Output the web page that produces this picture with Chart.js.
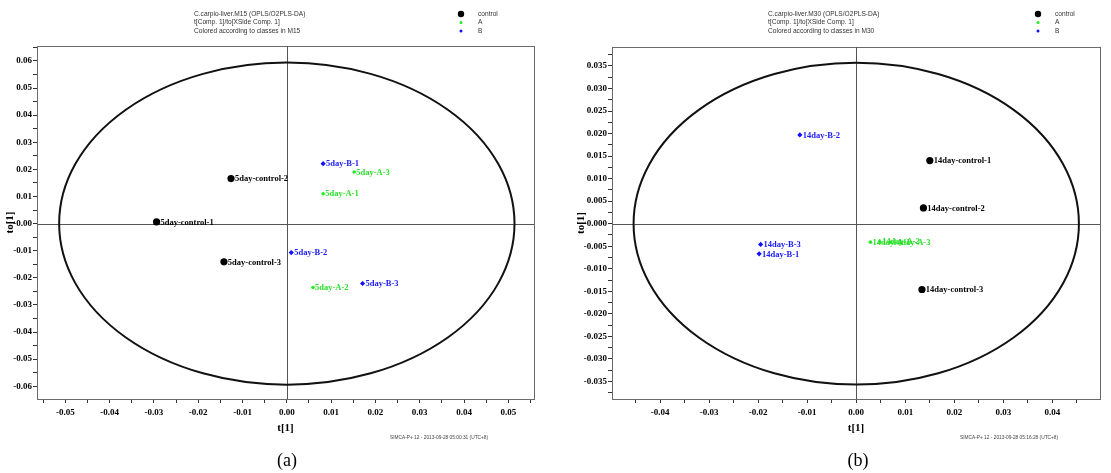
<!DOCTYPE html>
<html>
<head>
<meta charset="utf-8">
<script src="https://cdn.jsdelivr.net/npm/chart.js@4.4.1/dist/chart.umd.min.js"></script>
<style>
  html, body { margin: 0; padding: 0; background: #fff; }
  #wrap { position: relative; width: 1111px; height: 473px; overflow: hidden; background: #fff; }
  #wrap canvas { position: absolute; top: 0; }
  #c15 { left: 0; }
  #c30 { left: 560px; }
</style>
</head>
<body>
<div id="wrap">
  <canvas id="c15" width="560" height="473"></canvas>
  <canvas id="c30" width="551" height="473"></canvas>
</div>
<script>
// ---- M15 (5 day) scores: t[1] and to[1] ----
const m15ControlNames = ['5day-control-1', '5day-control-2', '5day-control-3'];
const m15ControlT     = [-0.0294, -0.0126, -0.0142];
const m15ControlTo    = [0.0006, 0.0166, -0.0141];
const m15ANames = ['5day-A-1', '5day-A-2', '5day-A-3'];
const m15AT     = [0.0082, 0.0059, 0.0152];
const m15ATo    = [0.0110, -0.0236, 0.0190];
const m15BNames = ['5day-B-1', '5day-B-2', '5day-B-3'];
const m15BT     = [0.0082, 0.0010, 0.0171];
const m15BTo    = [0.0221, -0.0107, -0.0221];
// Hotelling T2 (95%) ellipse semi-axes [t, to]
const m15Ellipse = [0.0514, 0.0594];

// ---- M30 (14 day) scores ----
const m30ControlNames = ['14day-control-1', '14day-control-2', '14day-control-3'];
const m30ControlT     = [0.0150, 0.0137, 0.0134];
const m30ControlTo    = [0.0140, 0.0035, -0.0146];
const m30ANames = ['14day-A-1', '14day-A-2', '14day-A-3'];
const m30AT     = [0.0029, 0.0048, 0.0070];
const m30ATo    = [-0.0041, -0.0040, -0.0041];
const m30BNames = ['14day-B-1', '14day-B-2', '14day-B-3'];
const m30BT     = [-0.0198, -0.0115, -0.0195];
const m30BTo    = [-0.0067, 0.0197, -0.0046];
const m30Ellipse = [0.0454, 0.0357];

// ---- class legend ----
const classNames = ['control', 'A', 'B'];

// ---- text ----
const m15Header = ['C.carpio-liver.M15 (OPLS/O2PLS-DA)', 't[Comp. 1]/to[XSide Comp. 1]', 'Colored according to classes in M15'];
const m30Header = ['C.carpio-liver.M30 (OPLS/O2PLS-DA)', 't[Comp. 1]/to[XSide Comp. 1]', 'Colored according to classes in M30'];
const m15Footer = 'SIMCA-P+ 12 - 2013-09-28 05:00:31 (UTC+8)';
const m30Footer = 'SIMCA-P+ 12 - 2013-09-28 05:16:28 (UTC+8)';

const SERIF = "'Liberation Serif', 'Times New Roman', serif";
const SANS = "'Liberation Sans', Arial, sans-serif";

const classStyle = [
  { color: '#000000', text: '#000000', pointStyle: 'circle', radius: 3.6 },
  { color: '#22ee22', text: '#2ee02e', pointStyle: 'circle', radius: 1.8 },
  { color: '#1111ff', text: '#1a1aff', pointStyle: 'rectRot', radius: 2.6 }
];

function pts(xs, ys) { return xs.map((x, i) => ({ x: x, y: ys[i] })); }

function datasets(groups) {
  return groups.map((g, i) => ({
    label: classNames[i],
    data: pts(g.t, g.to),
    names: g.names,
    pointStyle: classStyle[i].pointStyle,
    pointRadius: classStyle[i].radius,
    pointBackgroundColor: classStyle[i].color,
    pointBorderColor: classStyle[i].color,
    pointBorderWidth: 0,
    textColor: classStyle[i].text,
    showLine: false
  }));
}

// Frame, zero lines and T2 ellipse, drawn in data space
const framePlugin = {
  id: 'frame',
  beforeDatasetsDraw(chart) {
    const { ctx, chartArea: a, scales: { x, y } } = chart;
    const o = chart.options.plugins.frame;
    ctx.save();
    ctx.strokeStyle = '#6a6a6a';
    ctx.lineWidth = 1;
    ctx.strokeRect(a.left + 0.5, a.top + 0.5, a.right - a.left, a.bottom - a.top);
    const x0 = Math.round(x.getPixelForValue(0)) + 0.5;
    const y0 = Math.round(y.getPixelForValue(0)) + 0.5;
    ctx.strokeStyle = '#555';
    ctx.beginPath();
    ctx.moveTo(x0, a.top); ctx.lineTo(x0, a.bottom);
    ctx.moveTo(a.left, y0); ctx.lineTo(a.right, y0);
    ctx.stroke();
    const rx = Math.abs(x.getPixelForValue(o.ellipse[0]) - x.getPixelForValue(0));
    const ry = Math.abs(y.getPixelForValue(o.ellipse[1]) - y.getPixelForValue(0));
    ctx.strokeStyle = '#111';
    ctx.lineWidth = 2;
    ctx.beginPath();
    ctx.ellipse(x.getPixelForValue(0), y.getPixelForValue(0), rx, ry, 0, 0, Math.PI * 2);
    ctx.stroke();
    ctx.restore();
  }
};

// Observation names beside each point
const labelPlugin = {
  id: 'pointNames',
  afterDatasetsDraw(chart) {
    const { ctx } = chart;
    ctx.save();
    ctx.font = "bold 8.5px " + SERIF;
    ctx.textBaseline = 'middle';
    ctx.textAlign = 'left';
    chart.data.datasets.forEach((ds, di) => {
      const meta = chart.getDatasetMeta(di);
      ctx.fillStyle = ds.textColor;
      meta.data.forEach((el, i) => {
        ctx.fillText(ds.names[i], el.x + ds.pointRadius + 0.3, el.y + 0.5);
      });
    });
    ctx.restore();
  }
};

// Header, class legend, footer stamp and panel caption
const decorPlugin = {
  id: 'decor',
  afterDraw(chart) {
    const { ctx } = chart;
    const o = chart.options.plugins.decor;
    ctx.save();
    ctx.fillStyle = '#333';
    ctx.font = "6.6px " + SANS;
    ctx.textBaseline = 'middle';
    ctx.textAlign = 'left';
    const rows = [14, 22.5, 31];
    o.header.forEach((line, i) => ctx.fillText(line, o.headerX, rows[i]));
    chart.data.datasets.forEach((ds, i) => {
      ctx.fillStyle = ds.pointBackgroundColor;
      const cx = o.legendX, cy = rows[i];
      const r = i === 0 ? 3.2 : 1.5;
      ctx.beginPath();
      ctx.arc(cx, cy, r, 0, Math.PI * 2);
      ctx.fill();
      ctx.fillStyle = '#333';
      ctx.fillText(ds.label, o.legendX + 17, cy);
    });
    ctx.font = "4.8px " + SANS;
    ctx.fillStyle = '#444';
    ctx.fillText(o.footer, o.footerX, 438);
    ctx.font = "18px " + SERIF;
    ctx.fillStyle = '#000';
    ctx.textAlign = 'center';
    ctx.fillText(o.caption, o.captionX, 461);
    ctx.restore();
  }
};

function makeChart(id, cfg) {
  const tickFont = { family: SERIF, size: 9, weight: 'bold' };
  const titleFont = { family: SERIF, size: 11, weight: 'bold' };
  return new Chart(document.getElementById(id), {
    type: 'scatter',
    data: { datasets: datasets(cfg.groups) },
    plugins: [framePlugin, labelPlugin, decorPlugin],
    options: {
      responsive: false,
      animation: false,
      events: [],
      layout: { padding: { left: 0, right: cfg.padRight, top: cfg.padTop, bottom: 0 } },
      plugins: {
        legend: { display: false },
        tooltip: { enabled: false },
        frame: { ellipse: cfg.ellipse },
        decor: cfg.decor
      },
      scales: {
        x: {
          type: 'linear', position: 'bottom',
          min: cfg.xMin, max: cfg.xMax,
          afterFit(s) { s.height = 74; },
          ticks: {
            stepSize: 0.005, includeBounds: false, autoSkip: false, maxRotation: 0,
            padding: 4, color: '#000', font: tickFont,
            callback(v) {
              const k = Math.round(v * 1000);
              if (k % 10 !== 0) return '';
              return (k / 1000).toFixed(2);
            }
          },
          grid: { drawOnChartArea: false, drawTicks: true, tickLength: 4, color: '#333' },
          border: { display: true, color: '#333' },
          title: { display: true, text: 't[1]', color: '#000', font: titleFont, padding: { top: 0, bottom: 38 } }
        },
        y: {
          type: 'linear', position: 'left',
          min: cfg.yMin, max: cfg.yMax,
          afterFit(s) { s.width = cfg.yWidth; },
          ticks: {
            stepSize: cfg.yStep, includeBounds: false, autoSkip: false,
            padding: 1, color: '#000', font: tickFont,
            callback: cfg.yLabel
          },
          grid: { drawOnChartArea: false, drawTicks: true, tickLength: 4, color: '#333' },
          border: { display: true, color: '#333' },
          title: { display: true, text: 'to[1]', color: '#000', font: titleFont, padding: { top: cfg.yTitlePad, bottom: 0 } }
        }
      }
    }
  });
}

makeChart('c15', {
  groups: [
    { names: m15ControlNames, t: m15ControlT, to: m15ControlTo },
    { names: m15ANames, t: m15AT, to: m15ATo },
    { names: m15BNames, t: m15BT, to: m15BTo }
  ],
  ellipse: m15Ellipse,
  xMin: -0.0564, xMax: 0.0558,
  yMin: -0.0647, yMax: 0.0655,
  yStep: 0.005,
  yWidth: 37, yTitlePad: 4,
  padRight: 26, padTop: 46,
  yLabel(v) {
    const k = Math.round(v * 1000);
    if (k % 10 !== 0) return '';
    return k === 0 ? '-0.00' : (k / 1000).toFixed(2);
  },
  decor: { header: m15Header, headerX: 194, legendX: 461, footer: m15Footer, footerX: 390, caption: '(a)', captionX: 287 }
});

makeChart('c30', {
  groups: [
    { names: m30ControlNames, t: m30ControlT, to: m30ControlTo },
    { names: m30ANames, t: m30AT, to: m30ATo },
    { names: m30BNames, t: m30BT, to: m30BTo }
  ],
  ellipse: m30Ellipse,
  xMin: -0.0498, xMax: 0.0497,
  yMin: -0.0389, yMax: 0.0392,
  yStep: 0.0025,
  yWidth: 52, yTitlePad: 15,
  padRight: 11, padTop: 47,
  yLabel(v) {
    const k = Math.round(v * 10000);
    if (k % 50 !== 0) return '';
    return k === 0 ? '-0.000' : (k / 10000).toFixed(3);
  },
  decor: { header: m30Header, headerX: 208, legendX: 478, footer: m30Footer, footerX: 400, caption: '(b)', captionX: 298 }
});
</script>
</body>
</html>
